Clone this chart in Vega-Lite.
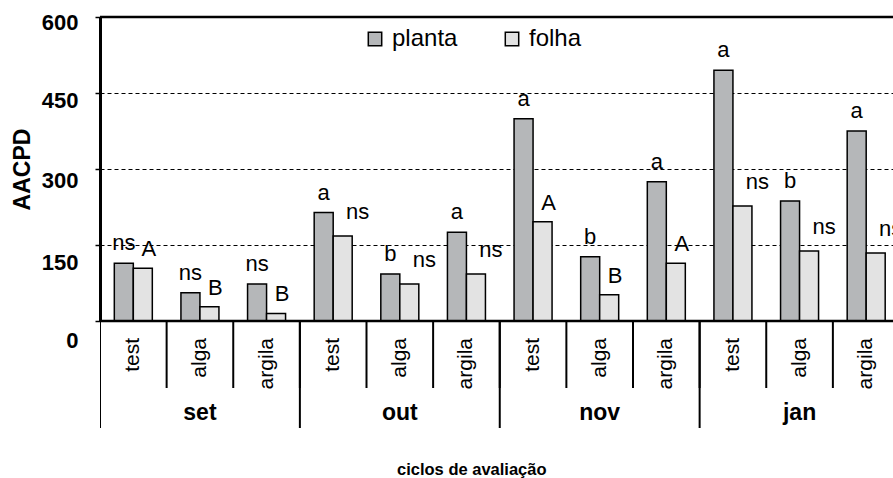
{
  "$schema": "https://vega.github.io/schema/vega-lite/v6.json",
  "padding": {"left": 11, "top": 11, "right": 0, "bottom": 0},
  "spacing": 0,
  "bounds": "flush",
  "datasets": {
    "barras": [
      {"ciclo": "set", "trat": "test", "cela": "set-test", "serie": "planta", "valor": 114, "letra": "ns"},
      {"ciclo": "set", "trat": "test", "cela": "set-test", "serie": "folha", "valor": 104, "letra": "A"},
      {"ciclo": "set", "trat": "alga", "cela": "set-alga", "serie": "planta", "valor": 56, "letra": "ns"},
      {"ciclo": "set", "trat": "alga", "cela": "set-alga", "serie": "folha", "valor": 28, "letra": "B"},
      {"ciclo": "set", "trat": "argila", "cela": "set-argila", "serie": "planta", "valor": 73, "letra": "ns"},
      {"ciclo": "set", "trat": "argila", "cela": "set-argila", "serie": "folha", "valor": 15, "letra": "B"},
      {"ciclo": "out", "trat": "test", "cela": "out-test", "serie": "planta", "valor": 214, "letra": "a"},
      {"ciclo": "out", "trat": "test", "cela": "out-test", "serie": "folha", "valor": 168, "letra": "ns"},
      {"ciclo": "out", "trat": "alga", "cela": "out-alga", "serie": "planta", "valor": 93, "letra": "b"},
      {"ciclo": "out", "trat": "alga", "cela": "out-alga", "serie": "folha", "valor": 73, "letra": "ns"},
      {"ciclo": "out", "trat": "argila", "cela": "out-argila", "serie": "planta", "valor": 175, "letra": "a"},
      {"ciclo": "out", "trat": "argila", "cela": "out-argila", "serie": "folha", "valor": 93, "letra": "ns"},
      {"ciclo": "nov", "trat": "test", "cela": "nov-test", "serie": "planta", "valor": 399, "letra": "a"},
      {"ciclo": "nov", "trat": "test", "cela": "nov-test", "serie": "folha", "valor": 196, "letra": "A"},
      {"ciclo": "nov", "trat": "alga", "cela": "nov-alga", "serie": "planta", "valor": 127, "letra": "b"},
      {"ciclo": "nov", "trat": "alga", "cela": "nov-alga", "serie": "folha", "valor": 52, "letra": "B"},
      {"ciclo": "nov", "trat": "argila", "cela": "nov-argila", "serie": "planta", "valor": 275, "letra": "a"},
      {"ciclo": "nov", "trat": "argila", "cela": "nov-argila", "serie": "folha", "valor": 114, "letra": "A"},
      {"ciclo": "jan", "trat": "test", "cela": "jan-test", "serie": "planta", "valor": 495, "letra": "a"},
      {"ciclo": "jan", "trat": "test", "cela": "jan-test", "serie": "folha", "valor": 227, "letra": "ns"},
      {"ciclo": "jan", "trat": "alga", "cela": "jan-alga", "serie": "planta", "valor": 237, "letra": "b"},
      {"ciclo": "jan", "trat": "alga", "cela": "jan-alga", "serie": "folha", "valor": 138, "letra": "ns"},
      {"ciclo": "jan", "trat": "argila", "cela": "jan-argila", "serie": "planta", "valor": 375, "letra": "a"},
      {"ciclo": "jan", "trat": "argila", "cela": "jan-argila", "serie": "folha", "valor": 134, "letra": "ns"}
    ],
    "ciclos": [
      {"ciclo": "set"}, {"ciclo": "out"}, {"ciclo": "nov"}, {"ciclo": "jan"}
    ]
  },
  "title": {
    "text": "ciclos de avaliação",
    "orient": "bottom",
    "anchor": "middle",
    "fontSize": 16.5,
    "fontWeight": "bold",
    "color": "black",
    "offset": 31,
    "dx": 19
  },
  "vconcat": [
    {
      "width": 793,
      "height": 304,
      "data": {"name": "barras"},
      "encoding": {
        "x": {"field": "cela", "type": "nominal", "sort": null, "axis": null,
              "scale": {"range": [0, 799.5], "paddingInner": 0, "paddingOuter": 0}},
        "xOffset": {"field": "serie", "type": "nominal", "sort": ["planta", "folha"],
                    "scale": {"paddingInner": 0, "paddingOuter": 0.753}},
        "y": {"field": "valor", "type": "quantitative",
              "scale": {"domain": [0, 600], "nice": false},
              "axis": {
                "values": [0, 150, 300, 450, 600],
                "title": "AACPD",
                "titleFontSize": 23,
                "titleFontWeight": "bold",
                "titleColor": "black",
                "titlePadding": 7,
                "labelFontSize": 22,
                "labelFontWeight": "bold",
                "labelColor": "black",
                "labelPadding": 17,
                "labelBaseline": "middle",
                "labelOffset": {
                  "condition": [
                    {"test": "datum.value == 0", "value": 19},
                    {"test": "datum.value == 150", "value": 17},
                    {"test": "datum.value == 300", "value": 11},
                    {"test": "datum.value == 450", "value": 7}
                  ],
                  "value": 5
                },
                "tickSize": 5,
                "tickColor": "black",
                "tickWidth": 1.5,
                "domainColor": "black",
                "domainWidth": 3,
                "grid": true,
                "gridColor": "black",
                "gridDash": [4, 3],
                "gridWidth": 1
              }}
      },
      "layer": [
        {
          "mark": {"type": "bar", "stroke": "black", "strokeWidth": 1.5, "clip": true},
          "encoding": {
            "color": {"field": "serie", "type": "nominal", "sort": ["planta", "folha"],
                      "scale": {"range": ["#b5b7b9", "#e3e3e3"]},
                      "legend": {
                        "title": null, "orient": "none", "direction": "horizontal",
                        "legendX": 263, "legendY": 10,
                        "symbolType": "square", "symbolSize": 180,
                        "symbolStrokeColor": "black", "symbolStrokeWidth": 1.5,
                        "labelFontSize": 24, "labelColor": "black", "labelOffset": 5,
                        "columnPadding": 42
                      }}
          }
        },
        {
          "transform": [{"filter": "datum.serie == 'planta'"}],
          "mark": {"type": "text", "baseline": "alphabetic", "dy": -13, "fontSize": 22, "color": "black", "clip": true},
          "encoding": {"text": {"field": "letra"}}
        },
        {
          "transform": [{"filter": "datum.serie == 'folha' && datum.letra != 'ns'"}],
          "mark": {"type": "text", "baseline": "alphabetic", "dx": 6, "dy": -12, "fontSize": 22, "color": "black", "clip": true},
          "encoding": {"text": {"field": "letra"}}
        },
        {
          "transform": [{"filter": "datum.serie == 'folha' && datum.letra == 'ns'"}],
          "mark": {"type": "text", "baseline": "alphabetic", "dx": 15, "dy": -17, "fontSize": 22, "color": "black", "clip": true},
          "encoding": {"text": {"field": "letra"}}
        },
        {
          "data": {"values": [{"v": 0}, {"v": 600}]},
          "mark": {"type": "rule", "color": "black", "strokeWidth": 2.5},
          "encoding": {"y": {"field": "v", "type": "quantitative"}, "x": null, "xOffset": null}
        }
      ]
    },
    {
      "width": 793,
      "height": 110,
      "resolve": {"scale": {"x": "independent"}},
      "encoding": {
        "y": {"datum": 0, "type": "quantitative", "scale": {"domain": [0, 110], "reverse": true, "nice": false}, "axis": null}
      },
      "layer": [
        {
          "data": {"name": "barras"},
          "transform": [{"filter": "datum.serie == 'planta'"}],
          "mark": {"type": "rule", "color": "black", "strokeWidth": 2, "clip": true},
          "encoding": {
            "x": {"field": "cela", "type": "nominal", "sort": null, "bandPosition": 0, "axis": null,
                  "scale": {"range": [0, 799.5], "paddingInner": 0, "paddingOuter": 0}},
            "y": {"datum": 0, "type": "quantitative"},
            "y2": {"datum": 67}
          }
        },
        {
          "data": {"name": "barras"},
          "transform": [{"filter": "datum.serie == 'planta'"}],
          "mark": {"type": "text", "angle": 270, "align": "right", "baseline": "middle", "fontSize": 21, "color": "black", "clip": true},
          "encoding": {
            "x": {"field": "cela", "type": "nominal", "sort": null, "axis": null,
                  "scale": {"range": [0, 799.5], "paddingInner": 0, "paddingOuter": 0}},
            "y": {"datum": 17, "type": "quantitative"},
            "text": {"field": "trat"}
          }
        },
        {
          "data": {"name": "ciclos"},
          "layer": [
            {
              "mark": {"type": "rule", "color": "black", "strokeWidth": 2, "clip": true},
              "encoding": {
                "x": {"field": "ciclo", "type": "nominal", "sort": null, "bandPosition": 0, "axis": null,
                      "scale": {"range": [0, 799.5], "paddingInner": 0, "paddingOuter": 0}},
                "y": {"datum": 0, "type": "quantitative"},
                "y2": {"datum": 107}
              }
            },
            {
              "mark": {"type": "text", "baseline": "alphabetic", "fontSize": 23, "fontWeight": "bold", "color": "black", "clip": true},
              "encoding": {
                "x": {"field": "ciclo", "type": "nominal", "sort": null, "axis": null,
                      "scale": {"range": [0, 799.5], "paddingInner": 0, "paddingOuter": 0}},
                "y": {"datum": 99, "type": "quantitative"},
                "text": {"field": "ciclo"}
              }
            }
          ]
        }
      ]
    }
  ],
  "config": {
    "font": "Liberation Sans",
    "view": {"stroke": null},
    "background": "white"
  }
}
